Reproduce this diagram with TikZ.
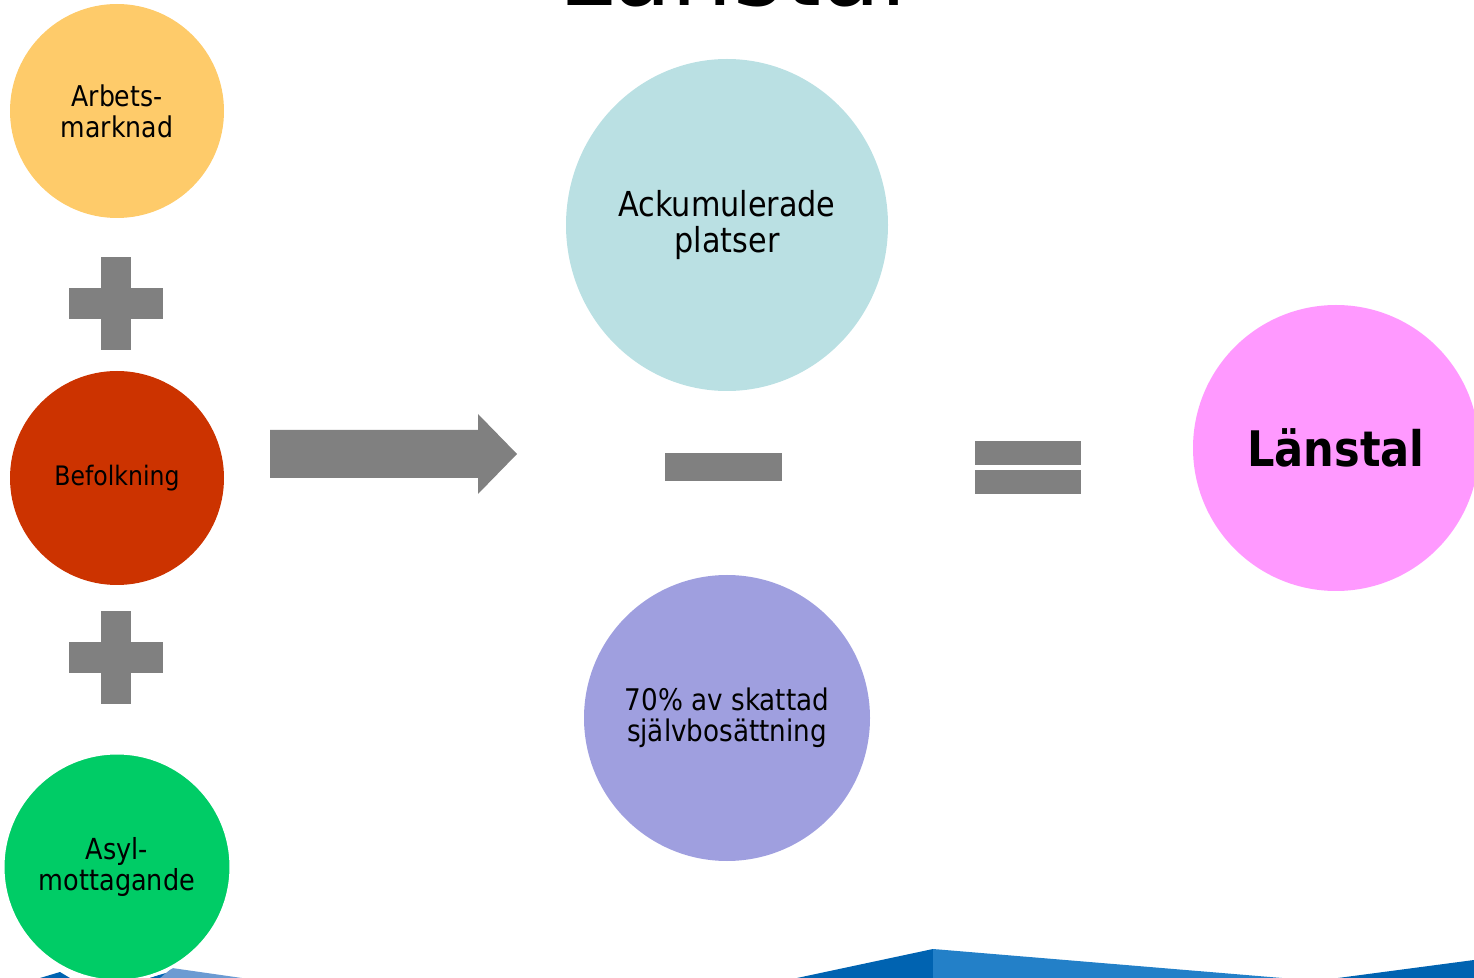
\documentclass[tikz,border=0pt]{standalone}
\usepackage{fontspec}
\setmainfont{DejaVu Sans}[FakeStretch=0.88]
\usetikzlibrary{shapes.geometric}
\definecolor{cArb}{RGB}{254,203,106}
\definecolor{cBef}{RGB}{204,51,0}
\definecolor{cAsyl}{RGB}{0,204,102}
\definecolor{cAck}{RGB}{186,224,227}
\definecolor{cSkatt}{RGB}{159,159,223}
\definecolor{cLan}{RGB}{255,153,255}
\definecolor{cSign}{RGB}{128,128,128}
\definecolor{cBlueD}{RGB}{0,99,177}
\definecolor{cBlueL}{RGB}{35,128,200}
\definecolor{cBlueP}{RGB}{108,155,210}

\begin{document}
\begin{tikzpicture}[x=0.5pt, y=-0.5pt,
  ball/.style={circle, inner sep=0pt, align=center, text=black},
  sign/.style={fill=cSign, draw=none}]
\useasboundingbox (0,0) rectangle (1474,978);
\clip (0,0) rectangle (1474,978);
% title, mostly above the page
\node (title) [anchor=base, font=\fontsize{55}{60}\selectfont] at (733,6) {Länstal};
% bottom decoration
\fill [cBlueD] (797,978) -- (933,949) -- (933,978) -- cycle;
\fill [cBlueL] (933,949) -- (1282,978) -- (933,978) -- cycle;
\fill [cBlueD] (1338,978) -- (1474,960) -- (1474,978) -- cycle;
\fill [cBlueD] (40,978) -- (60,972) -- (70,978) -- cycle;
\fill [cBlueP] (160,978) -- (172,968) -- (242,978) -- cycle;
\fill [cBlueD] (148,978) -- (160,978) -- (166,973) -- cycle;
% left column
\node (1) [ball, fill=cArb, minimum size=107pt, font=\fontsize{14.3}{15.5}\selectfont] at (117,111) {Arbets-\\marknad};
\node (2) [ball, fill=cBef, minimum size=107pt, font=\fontsize{13.4}{15}\selectfont] at (117,478) {Befolkning};
\node (3) [ball, fill=cAsyl, draw=white, line width=1.5pt, minimum size=114pt, font=\fontsize{14.5}{15.5}\selectfont] at (117,867) {Asyl-\\mottagande};
\fill [sign] (101,257) rectangle (131,350);
\fill [sign] (69,288) rectangle (163,319);
\fill [sign] (101,611) rectangle (131,704);
\fill [sign] (69,642) rectangle (163,673);
% arrow
\fill [sign] (270,430) -- (478,430) -- (478,414) -- (517,454) -- (478,494) -- (478,478) -- (270,478) -- cycle;
% middle column
\node (4) [ellipse, inner sep=0pt, align=center, fill=cAck, minimum width=161pt, minimum height=166pt, font=\fontsize{17.2}{18}\selectfont] at (727,225) {Ackumulerade\\platser};
\fill [sign] (665,453) rectangle (782,481);
\node (5) [ball, fill=cSkatt, minimum size=143pt, font=\fontsize{14.9}{15.5}\selectfont] at (727,718) {70\% av skattad\\självbosättning};
% result
\fill [sign] (975,441) rectangle (1081,465);
\fill [sign] (975,470) rectangle (1081,494);
\node (6) [ball, fill=cLan, minimum size=143pt, font=\bfseries\fontsize{24.5}{26}\selectfont] at (1336,448) {Länstal};
\end{tikzpicture}
\end{document}
